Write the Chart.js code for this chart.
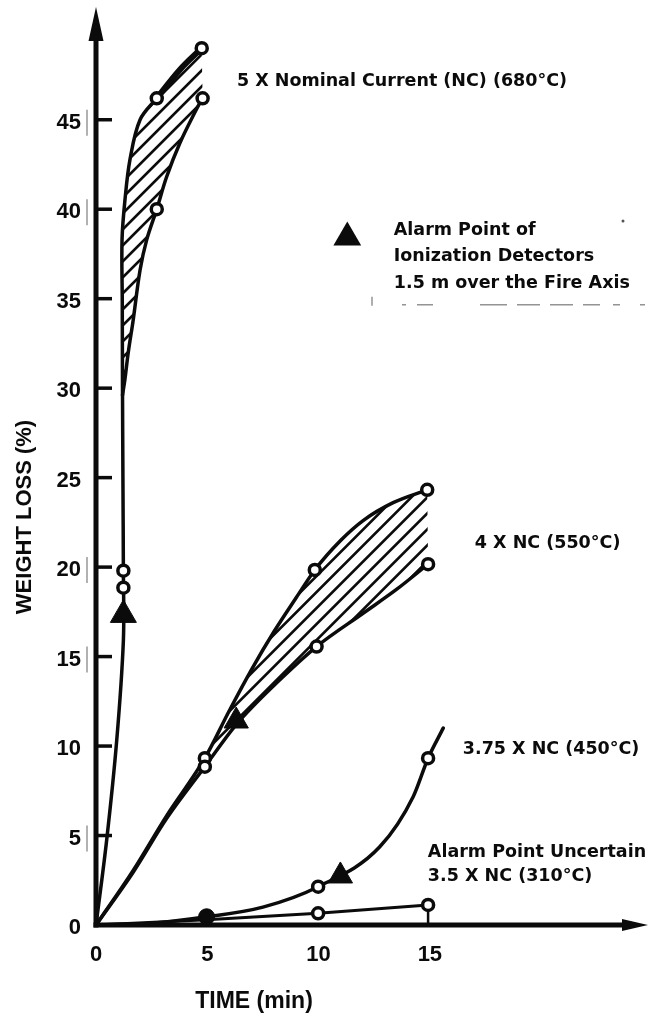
<!DOCTYPE html>
<html>
<head>
<meta charset="utf-8">
<title>Weight loss versus time</title>
<script src="https://cdn.jsdelivr.net/npm/chart.js@4.4.1/dist/chart.umd.min.js"></script>
<style>
  html, body { margin: 0; padding: 0; background: #fff; }
  #wrap { position: relative; width: 649px; height: 1017px; }
</style>
</head>
<body>
<div id="wrap"><canvas id="chart"></canvas></div>
<script>
// Weight loss (%) of cable samples over time (min) at several multiples of the nominal current.

const xTicks = [0, 5, 10, 15];
const yTicks = [0, 5, 10, 15, 20, 25, 30, 35, 40, 45];

// 5 x NC (680 °C): band between a left/upper and a right/lower curve
const nc5Upper = [[0, 0], [0.48, 4.75], [0.93, 10.3], [1.23, 15.9], [1.23, 19.8], [1.21, 24.9],
  [1.19, 30.1], [1.18, 34.9], [1.17, 38.3], [1.30, 40.5], [1.53, 42.8], [1.98, 45.0],
  [2.73, 46.2], [3.77, 47.8], [4.75, 49.0]];
const nc5Lower = [[1.19, 29.6], [1.30, 30.5], [1.45, 32.0], [1.67, 33.8], [1.98, 36.6],
  [2.28, 38.3], [2.73, 40.0], [3.17, 41.8], [3.77, 43.7], [4.52, 45.6], [4.79, 46.2]];

// 4 x NC (550 °C)
const nc4Upper = [[0, 0], [1.67, 3.05], [3.17, 6.1], [4.89, 9.32], [6.0, 12.0], [7.0, 14.3],
  [8.0, 16.4], [9.0, 18.3], [9.83, 19.84], [11.0, 21.5], [12.0, 22.6], [13.35, 23.6], [14.88, 24.32]];
const nc4Lower = [[0, 0], [1.67, 2.95], [3.17, 5.95], [4.89, 8.85], [6.3, 11.2], [8.26, 13.7],
  [9.91, 15.56], [12.0, 17.42], [13.5, 18.75], [14.92, 20.16]];

// 3.75 x NC (450 °C)
const nc375 = [[0, 0], [2.5, 0.1], [4.97, 0.46], [7.5, 1.0], [9.98, 2.14], [12.75, 4.37],
  [14.25, 7.17], [14.92, 9.32], [15.6, 11.0]];

// 3.5 x NC (310 °C)
const nc35 = [[0, 0], [4.97, 0.3], [9.98, 0.65], [14.92, 1.12]];
const nc35Stem = [[14.92, 1.12], [14.92, 0]];

// measured points (open circles), the solid point and the detector alarm points
const openCircles = [[4.75, 49.0], [2.73, 46.2], [4.79, 46.2], [2.73, 40.0], [1.23, 19.8],
  [1.23, 18.85], [4.89, 9.32], [4.89, 8.85], [9.83, 19.84], [14.88, 24.32], [9.91, 15.56],
  [14.92, 20.16], [9.98, 2.14], [14.92, 9.32], [9.98, 0.65], [14.92, 1.12]];
const solidPoints = [[4.97, 0.46]];
const alarmPoints = [[1.23, 17.33], [6.3, 11.4], [10.98, 2.74]];
const alarmSizes = [15, 14, 14];

const ink = '#0b0b0b';
const pts = arr => arr.map(([x, y]) => ({ x, y }));

// curve labels, placed in data units (left edge, baseline)
const notes = [
  { text: '5 X Nominal Current (NC) (680°C)', x: 6.33, y: 46.9 },
  { text: 'Alarm Point of', x: 13.38, y: 38.57 },
  { text: 'Ionization Detectors', x: 13.38, y: 37.09 },
  { text: '1.5 m over the Fire Axis', x: 13.38, y: 35.61 },
  { text: '4 X NC (550°C)', x: 17.02, y: 21.07 },
  { text: '3.75 X NC (450°C)', x: 16.48, y: 9.56 },
  { text: 'Alarm Point Uncertain', x: 14.91, y: 3.80 },
  { text: '3.5 X NC (310°C)', x: 14.91, y: 2.46 }
];
const legendMark = { x: 11.29, y: 38.42 };

// hatched bands: dataset pairs and the index where each boundary starts
const hatchBands = [
  { upper: 0, lower: 1, upperFrom: 6, lowerFrom: 0 },
  { upper: 2, lower: 3, upperFrom: 3, lowerFrom: 3 }
];

function traceCurve(ctx, list, reverse, moveFirst) {
  const seq = reverse ? list.slice().reverse() : list;
  seq.forEach((p, i) => {
    if (i === 0) { moveFirst ? ctx.moveTo(p.x, p.y) : ctx.lineTo(p.x, p.y); return; }
    const q = seq[i - 1];
    if (q.cp1x === undefined) { ctx.lineTo(p.x, p.y); return; }
    if (reverse) ctx.bezierCurveTo(q.cp1x, q.cp1y, p.cp2x, p.cp2y, p.x, p.y);
    else ctx.bezierCurveTo(q.cp2x, q.cp2y, p.cp1x, p.cp1y, p.x, p.y);
  });
}

const hatchPlugin = {
  id: 'hatch',
  beforeDatasetsDraw(chart) {
    const ctx = chart.ctx, area = chart.chartArea;
    hatchBands.forEach(b => {
      const la = chart.getDatasetMeta(b.upper).dataset;
      const lb = chart.getDatasetMeta(b.lower).dataset;
      la.updateControlPoints(area); lb.updateControlPoints(area);
      const pa = la.points.slice(b.upperFrom), pb = lb.points.slice(b.lowerFrom);
      const all = pa.concat(pb);
      const minX = Math.min(...all.map(p => p.x)) - 5, maxX = Math.max(...all.map(p => p.x)) + 5;
      const minY = Math.min(...all.map(p => p.y)) - 5, maxY = Math.max(...all.map(p => p.y)) + 5;
      ctx.save();
      ctx.beginPath();
      traceCurve(ctx, pa, false, true);
      traceCurve(ctx, pb, true, false);
      ctx.closePath();
      ctx.clip();
      ctx.strokeStyle = ink;
      ctx.lineWidth = 2.6;
      ctx.beginPath();
      const h = maxY - minY;
      for (let k = minX - h; k < maxX; k += 16) {
        ctx.moveTo(k, maxY);
        ctx.lineTo(k + h, minY);
      }
      ctx.stroke();
      ctx.restore();
    });
  }
};

const axesPlugin = {
  id: 'axesArrows',
  afterDatasetsDraw(chart) {
    const ctx = chart.ctx, a = chart.chartArea;
    const ys = chart.scales.y;
    ctx.save();
    ctx.strokeStyle = ink; ctx.fillStyle = ink;
    ctx.lineCap = 'butt';
    // vertical axis with arrow head
    ctx.lineWidth = 5;
    ctx.beginPath();
    ctx.moveTo(a.left, a.bottom + 2.5);
    ctx.lineTo(a.left, a.top + 30);
    ctx.stroke();
    ctx.beginPath();
    ctx.moveTo(a.left, a.top);
    ctx.lineTo(a.left - 7.5, a.top + 34);
    ctx.lineTo(a.left + 7.5, a.top + 34);
    ctx.closePath();
    ctx.fill();
    // horizontal axis with arrow head
    ctx.beginPath();
    ctx.moveTo(a.left - 2.5, a.bottom);
    ctx.lineTo(a.right - 22, a.bottom);
    ctx.stroke();
    ctx.beginPath();
    ctx.moveTo(a.right, a.bottom);
    ctx.lineTo(a.right - 26, a.bottom - 6);
    ctx.lineTo(a.right - 26, a.bottom + 6);
    ctx.closePath();
    ctx.fill();
    // tick marks pointing into the plot
    ctx.lineWidth = 3.5;
    yTicks.filter(v => v > 0).forEach(v => {
      const py = ys.getPixelForValue(v);
      ctx.beginPath();
      ctx.moveTo(a.left, py);
      ctx.lineTo(a.left + 16, py);
      ctx.stroke();
    });
    ctx.restore();
  },
  afterDraw(chart) {
    const ctx = chart.ctx, a = chart.chartArea;
    const xs = chart.scales.x, ys = chart.scales.y;
    ctx.save();
    ctx.fillStyle = ink;
    // curve labels
    ctx.font = 'bold 17.5px "DejaVu Sans", sans-serif';
    ctx.textAlign = 'left';
    ctx.textBaseline = 'alphabetic';
    notes.forEach(n => ctx.fillText(n.text, xs.getPixelForValue(n.x), ys.getPixelForValue(n.y)));
    // legend triangle
    const cx = xs.getPixelForValue(legendMark.x), cy = ys.getPixelForValue(legendMark.y);
    ctx.beginPath();
    ctx.moveTo(cx, cy - 16);
    ctx.lineTo(cx + 13.9, cy + 8);
    ctx.lineTo(cx - 13.9, cy + 8);
    ctx.closePath();
    ctx.fill();
    // axis titles
    ctx.textAlign = 'center';
    ctx.textBaseline = 'middle';
    ctx.font = 'bold 23px "Liberation Sans", Arial, sans-serif';
    ctx.fillText('TIME (min)', xs.getPixelForValue(7.1), a.bottom + 77);
    ctx.save();
    ctx.translate(a.left - 71, ys.getPixelForValue(22.8));
    ctx.rotate(-Math.PI / 2);
    ctx.font = 'bold 22px "Liberation Sans", Arial, sans-serif';
    ctx.fillText('WEIGHT LOSS (%)', 0, 0);
    ctx.restore();
    // faint print marks: broken rule below the legend and thin bars beside some labels
    ctx.strokeStyle = 'rgba(60,60,60,0.55)';
    ctx.lineWidth = 1.5;
    const ry = ys.getPixelForValue(35.61) + 17;
    [[402, 406], [417, 433], [480, 507], [517, 540], [550, 573], [583, 600], [613, 620], [640, 645]]
      .forEach(([s, e]) => { ctx.beginPath(); ctx.moveTo(s, ry); ctx.lineTo(e, ry); ctx.stroke(); });
    ctx.beginPath(); ctx.moveTo(372, ry - 8); ctx.lineTo(372, ry + 1); ctx.stroke();
    ctx.fillStyle = 'rgba(40,40,40,0.8)';
    ctx.beginPath(); ctx.arc(623, 221, 1.5, 0, Math.PI * 2); ctx.fill();
    ctx.strokeStyle = 'rgba(40,40,40,0.6)';
    ctx.lineWidth = 1.2;
    [45, 40, 20, 15, 5].forEach(v => {
      const py = ys.getPixelForValue(v) + 3;
      ctx.beginPath(); ctx.moveTo(a.left - 9, py - 13); ctx.lineTo(a.left - 9, py + 13); ctx.stroke();
    });
    ctx.restore();
  }
};

const curve = (data, extra) => Object.assign({
  data: pts(data), borderColor: ink, borderWidth: 3.5, tension: 0.35,
  pointRadius: 0, fill: false, order: 2, borderCapStyle: 'round', borderJoinStyle: 'round'
}, extra || {});
const smooth = { cubicInterpolationMode: 'monotone' };

new Chart(document.getElementById('chart'), {
  type: 'line',
  data: {
    datasets: [
      curve(nc5Upper, { segment: { borderWidth: c => (c.p0DataIndex >= 12 ? 6 : 3.5) } }),
      curve(nc5Lower),
      curve(nc4Upper, smooth),
      curve(nc4Lower, smooth),
      curve(nc375, smooth),
      curve(nc35, { tension: 0, borderWidth: 3 }),
      curve(nc35Stem, { tension: 0, borderWidth: 2.5 }),
      {
        data: pts(openCircles), showLine: false, order: 0,
        pointStyle: 'circle', pointRadius: 5.5, pointBorderWidth: 3.5,
        pointBackgroundColor: '#ffffff', pointBorderColor: ink
      },
      {
        data: pts(solidPoints), showLine: false, order: 0,
        pointStyle: 'circle', pointRadius: 8, pointBorderWidth: 1,
        pointBackgroundColor: ink, pointBorderColor: ink
      },
      {
        data: pts(alarmPoints), showLine: false, order: 0,
        pointStyle: 'triangle', pointRadius: alarmSizes, pointBorderWidth: 1,
        pointBackgroundColor: ink, pointBorderColor: ink
      }
    ]
  },
  options: {
    responsive: true,
    maintainAspectRatio: false,
    animation: false,
    events: [],
    layout: { autoPadding: false, padding: { top: 7, right: 1, left: 0, bottom: 0 } },
    plugins: { legend: { display: false }, tooltip: { enabled: false }, title: { display: false } },
    scales: {
      x: {
        type: 'linear', min: 0, max: 24.8,
        grid: { display: false, drawTicks: false }, border: { display: false },
        afterBuildTicks: s => { s.ticks = xTicks.map(v => ({ value: v })); },
        afterFit: s => { s.height = 92; s.paddingLeft = 0; s.paddingRight = 0; },
        ticks: {
          padding: 17, color: ink, autoSkip: false, maxRotation: 0,
          font: { family: '"Liberation Sans", Arial, sans-serif', size: 22, weight: 'bold' }
        }
      },
      y: {
        type: 'linear', min: 0, max: 51.3,
        grid: { display: false, drawTicks: false }, border: { display: false },
        afterBuildTicks: s => { s.ticks = yTicks.map(v => ({ value: v })); },
        afterFit: s => { s.width = 96; s.paddingTop = 0; s.paddingBottom = 0; },
        ticks: {
          padding: 15, labelOffset: 3, color: ink, autoSkip: false,
          font: { family: '"Liberation Sans", Arial, sans-serif', size: 22, weight: 'bold' }
        }
      }
    }
  },
  plugins: [hatchPlugin, axesPlugin]
});
</script>
</body>
</html>
